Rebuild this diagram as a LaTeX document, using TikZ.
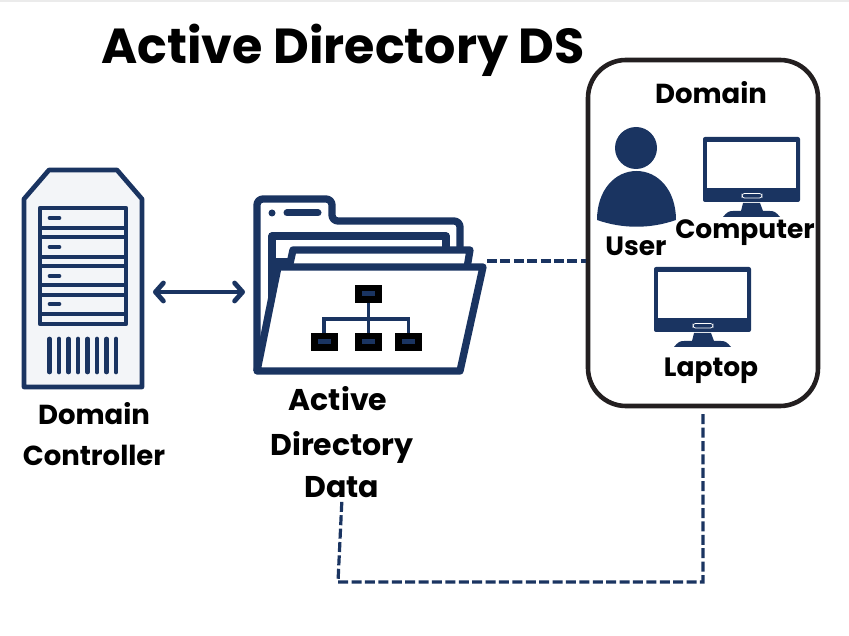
\documentclass[tikz,border=0pt]{standalone}
\usepackage{fontspec}
\setmainfont{Poppins}
\usepackage{tikz}
\usetikzlibrary{arrows.meta}
\definecolor{navy}{HTML}{1A3461}
\definecolor{paper}{HTML}{F3F5F8}
\definecolor{frame}{HTML}{231F20}
\tikzstyle{label}=[font=\bfseries\fontsize{26.5}{26.5}\selectfont, text=black, inner sep=0pt]
\tikzstyle{midlabel}=[font=\bfseries\fontsize{27.5}{27.5}\selectfont, text=black, inner sep=0pt]
\tikzstyle{biglabel}=[font=\bfseries\fontsize{30}{30}\selectfont, text=black, inner sep=0pt]
\tikzstyle{heading}=[font=\bfseries\fontsize{49.2}{49.2}\selectfont, text=black, inner sep=0pt]
\tikzstyle{icon}=[draw=navy, line width=4.7pt, line join=round]
\tikzstyle{sheet}=[draw=navy, line width=7.3pt, line join=round, fill=white]
\tikzstyle{orgbox}=[fill=black, minimum width=27pt, minimum height=18pt, inner sep=0pt]
\tikzstyle{dashline}=[draw=navy, line width=3.2pt, dash pattern=on 10pt off 3.4pt]
\tikzstyle{twoway}=[draw=navy, line width=4.8pt, >={Straight Barb[length=8pt,width=18pt,round]}, <->]
\tikzset{
	pics/monitor/.style={code={
		\fill[navy, rounded corners=2pt] (0,0) rectangle (97,65);
		\fill[white] (4,5) rectangle (93,51);
		\draw[white, line width=0.8pt, fill=navy, rounded corners=2.5pt] (39,56.5) rectangle (59,61);
		\fill[navy] (40,66) -- (57,66) -- (60,74) -- (38,74) -- cycle;
		\fill[navy] (20,80) .. controls (24,75) and (26,74) .. (30,74) -- (67,74) .. controls (71,74) and (73,75) .. (77,80) -- cycle;
	}}
}
\begin{document}
\begin{tikzpicture}[x=1pt, y=-1pt]
	\useasboundingbox (0,0) rectangle (849,636);
	\fill[black!8] (0,0) rectangle (849,1.7);
	\begin{scope}
		\node[heading] (title) at (343,50) {Active Directory DS};
		\node[draw=frame, line width=4.6pt, rounded corners=38pt, minimum width=230pt, minimum height=346pt, inner sep=0pt] (domain) at (703,233) {};
		\node[midlabel] (domainlabel) at (711,93) {Domain};
		\node[label] (user) at (636,246) {User};
		\node[label] (computer) at (745,233) {Computer};
		\node[label] (laptop) at (711,371) {Laptop};
		\node[midlabel] (controller1) at (94,414) {Domain};
		\node[midlabel] (controller2) at (94,455) {Controller};
		\node[biglabel] (data1) at (338,399) {Active};
		\node[biglabel] (data2) at (342,447) {Directory};
		\node[biglabel] (data3) at (342,487) {Data};
		\coordinate (serverport) at (153,292);
		\coordinate (folderport) at (245,292);
		\coordinate (folderedge) at (487,261);
		\coordinate (corner1) at (338,582);
		\coordinate (corner2) at (703,582);
	\end{scope}
	\begin{scope}
		\draw[icon, fill=paper] (24,199) -- (49,170) -- (117,170) -- (142,199) -- (142,387) -- (24,387) -- cycle;
		\draw[icon] (40,208) rectangle (126,324);
		\foreach \y in {228,237,257,266,285,295,314} {
			\draw[navy, line width=4.7pt] (40,\y) -- (126,\y);
		}
		\foreach \y in {218,247,276,304} {
			\draw[navy, line width=4.7pt, line cap=round] (50,\y) -- (59,\y);
		}
		\foreach \x in {49.5,59,68.5,78,87.5,97,106.5,116} {
			\draw[navy, line width=4.7pt, line cap=round] (\x,339) -- (\x,372);
		}
	\end{scope}
	\begin{scope}
		\draw[sheet, rounded corners=6pt] (257,371) -- (257,199) -- (332,199) -- (332,221) -- (460,221) -- (460,260) -- (257,371);
		\fill[navy] (272,213) circle (3.5pt);
		\draw[navy, line width=7pt, line cap=round] (287,213) -- (318,213);
		\draw[sheet] (272,310) -- (272,236) -- (446,236) -- (446,262) -- (272,262);
		\draw[sheet] (289,268) -- (293,250) -- (470,250) -- (467,268);
		\draw[sheet] (278,267) -- (483,267) -- (460,371) -- (257,371) -- cycle;
		\node[orgbox] (boxtop) at (368.5,294) {};
		\node[orgbox] (boxleft) at (324,342) {};
		\node[orgbox] (boxmid) at (368.5,342) {};
		\node[orgbox] (boxright) at (408.5,342) {};
		\draw[navy, line width=3.2pt] (boxtop) -- (boxmid);
		\draw[navy, line width=3.2pt] (boxleft.north) -- (324,319) -- (408.5,319) -- (boxright.north);
		\foreach \n in {boxtop,boxleft,boxmid,boxright} {
			\fill[navy] ([xshift=-6.5pt,yshift=-2.5pt]\n.center) rectangle ([xshift=6.5pt,yshift=2.5pt]\n.center);
		}
	\end{scope}
	\begin{scope}
		\fill[navy] (636,148) circle (21pt);
		\fill[navy] (597,220) .. controls (597,190) and (615,171) .. (636.5,171) .. controls (658,171) and (676,190) .. (676,220) .. controls (650,229) and (623,229) .. (597,220) -- cycle;
		\pic at (703,137) {monitor};
		\pic at (654,267) {monitor};
	\end{scope}
	\begin{scope}
		\draw[twoway] (serverport) -- (folderport);
		\draw[dashline] (folderedge) -- (domain.west |- folderedge);
		\draw[dashline, shorten <=4pt, shorten >=4pt] (data3.south) -- (corner1) -- (corner2) -- (domain.south);
	\end{scope}
\end{tikzpicture}
\end{document}
